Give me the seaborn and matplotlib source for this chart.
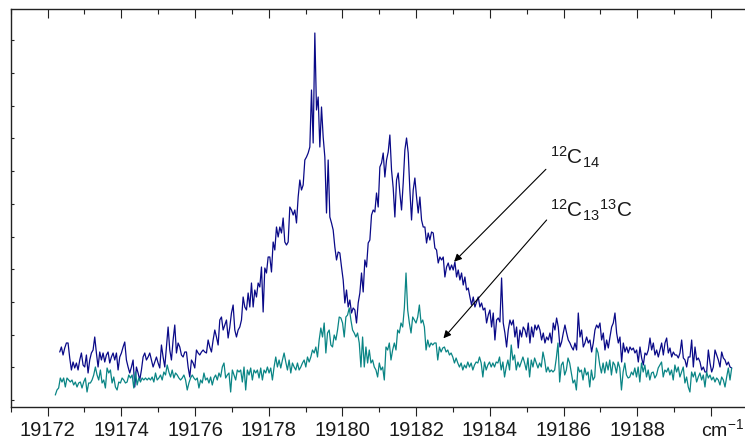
import numpy as np
import pandas as pd
import matplotlib
matplotlib.use("Agg")
import matplotlib.pyplot as plt
import seaborn as sns
from matplotlib.ticker import FixedLocator, MultipleLocator

# ---------------- data (arbitrary intensity units) ----------------
# 12C14 spectrum, sampled on an even grid from c14_start to c14_end (cm^-1)
c14_start, c14_end = 19172.33, 19190.56
c14_a = [48,53,45,52,57,57,42,30,38,32,37,30,40,47,35,33,45,27,40,47,50,63,47,33,48,40,47,38,45,48,
         37,43,47,40,47,30,43,47,53,58,40,33,27,33,40,13,33,27,20,30,43,47]
c14_b = [40,43,47,40,33,38,43,37,32,55,43,33,53,73,50,40,60,75,47,57,53,45,43,48,48,33,23,40,37,32,
         50,47,45,48,50,48,47,60,53,48,60,70,63,55,80,83,70,75,80,62,73,87,95,70,63,70,73,80,103,93]
c14_c = [90,107,93,117,93,110,103,117,113,133,88,132,127,143,143,128,158,150,173,163,173,167,182,158,155,
         158,193,190,185,190,177,203,220,210,215,240,243,247,253,310,257,367,290,303,253,293,263,243,187,240,
         183,177,170,153,140,148,147]
c14_d = [133,120,97,110,93,100,87,92,90,77,97,107,127,108,140,133,157,160,185,190,188,207,193,233,237,
         247,223,240,248,265,230,212,183,220,227,207,190,217,250,262,247,210,180,210,222,203,187,203,180,173,
         173,157,167,160,168,167,152]
c14_e = [150,137,143,140,143,123,133,137,130,135,130,138,123,130,120,127,115,123,110,112,103,95,103,93,98,
         103,93,97,90,92,77,85,90,73,87,60,80,82,78,122,77,67,53,70,80,75,80,63,73,52,70,63,73,70,63,77,57]
c14_f = [73,63,75,70,75,70,60,67,57,63,60,67,57,77,70,82,73,53,58,67,75,67,60,57,53,50,57,50,87,63,
         70,53,57,63,57,60,48,57,70,75,72,77,60,67,50,60,52,63,73,77,87,67,57,63,38,57,48,53,47,53]
c14_g = [50,52,47,50,38,53,42,35,47,45,50,62,50,57,45,50,43,50,57,45,57,62,47,52,43,48,45,45,42,47,
         60,42,40,33,43,43,60,33,53,40,42,38,30,33,28,28,50,37,28,33,50,45,40,33,48,42,40,35,38,33,32]

# 12C13 13C spectrum
c13_start, c13_end = 19172.21, 19190.56
c13_a = [5,10,12,22,18,22,13,22,20,18,20,15,18,13,17,18,12,18,22,8,17,17,20,25,33,25,20,30,17,20,
         12,32,27,30,17,23,13,10,18,17,22,20,17,18,25,22,25,12,28,15,22,18,22,20,22,20,22,20,23,18,
         27,20,22,25,20,28,25,35,28,23,30,22,27,25,22,20,22,25,20,10,17,22,25,22,20,22,12,20,17,27,
         20,22,17,23,15,22,25,20,27,23,33,37,22,25,27,8,30,25,20,30,28]
c13_b = [30,18,33,10,30,25,32,20,30,27,30,22,32,20,30,27,33,27,32,20,33,43,33,40,32,40,47,38,30,40,
         27,37,33,30,37,30,33,37,40,33,43,38,43,50,47,53,43,60,72,63,77,47,67,70,55,53,65,60,70,83]
c13_c = [82,77,63,83,85,92,80,70,67,63,67,57,33,63,33,53,37,50,37,40,33,30,23,37,30,33,20,53,50,57,
         40,50,57,50,70,67,77,73,92,127,90,77,67,83,80,77,83,95,77,80,73,50,60,53,57,55,57]
c13_d = [57,40,53,48,52,53,48,50,45,47,43,37,42,37,33,37,30,35,32,38,33,37,30,35,38,37,43,37,23,38,
         30,35,38,33,37,33,38,37,43,30,38,23,33,40,30,55,40,45,30,38,33,38,43,37,30,42,23]
c13_e = [40,33,42,37,32,37,33,48,40,28,33,28,30,28,30,42,57,18,35,38,25,30,42,37,27,17,20,10,33,28,
         30,20,32,25,28,13,30,20,23,52,47,35,27,37,27,38,30,40,25,38,35,27,38,32,10,28,37,25,22,23]
c13_f = [28,25,32,23,33,18,37,28,35,23,30,20,27,28,22,25,32,35,38,23,30,28,32,25,30,20,35,28,33,23,
         28,33,17,23,13,8,28,23,28,18,23,27,20,25,13,28,22,25,20,23,18,22,20,15,23,20,13,23,32,20,32]

tick_values = [19172, 19174, 19176, 19178, 19180, 19182, 19184, 19186, 19188, 19190]
tick_labels = ["19172", "19174", "19176", "19178", "19180", "19182", "19184", "19186", "19188", ""]
unit_label = "cm$^{-1}$"

species = ["12C14", "12C13 13C"]
species_labels = [r"$^{12}$C$_{14}$", r"$^{12}$C$_{13}{}^{13}$C"]
# arrow tail / head points (wavenumber, intensity)
arrow_tails = [(19185.52, 230.7), (19185.54, 180.0)]
arrow_heads = [(19183.03, 138.3), (19182.74, 61.7)]
text_pos = [(19185.62, 235.0), (19185.62, 183.0)]

# ---------------- build table ----------------
c14 = c14_a + c14_b + c14_c + c14_d + c14_e + c14_f + c14_g
c13 = c13_a + c13_b + c13_c + c13_d + c13_e + c13_f
wn14 = np.linspace(c14_start, c14_end, len(c14))
wn13 = np.linspace(c13_start, c13_end, len(c13))
df = pd.DataFrame({
    "wavenumber": np.concatenate([wn14, wn13]),
    "intensity": c14 + c13,
    "species": [species[0]] * len(c14) + [species[1]] * len(c13),
})

# ---------------- style ----------------
sns.set_style("ticks")
plt.rcParams["font.family"] = ["Liberation Sans", "DejaVu Sans"]
plt.rcParams["mathtext.fontset"] = "custom"
plt.rcParams["mathtext.rm"] = "Liberation Sans"
plt.rcParams["mathtext.it"] = "Liberation Sans:italic"
plt.rcParams["mathtext.default"] = "regular"

W, H = 745, 441
fig = plt.figure(figsize=(W / 100, H / 100), dpi=100)
ax = fig.add_axes([10.7 / W, 34.3 / H, 737.2 / W, 397.4 / H])

sns.lineplot(data=df, x="wavenumber", y="intensity", hue="species",
             palette={species[0]: "#0a0a88", species[1]: "#0a8585"},
             hue_order=species, estimator=None, sort=False, lw=0.9,
             legend=False, ax=ax)

ax.set_xlim(19171, 19191)
ax.set_ylim(-6.7, 390.7)
ax.set_xlabel("")
ax.set_ylabel("")

# spines
for s in ["left", "top", "bottom"]:
    ax.spines[s].set_color("#222222")
    ax.spines[s].set_linewidth(1.0)
ax.spines["right"].set_visible(False)

# x ticks (bottom: outward, labelled)
ax.xaxis.set_major_locator(FixedLocator(tick_values))
ax.set_xticklabels(tick_labels)
ax.xaxis.set_minor_locator(MultipleLocator(1))
ax.tick_params(axis="x", which="major", direction="out", length=6.5, width=0.8,
               colors="#222222", labelsize=14.5, pad=4.0, top=False)
ax.tick_params(axis="x", which="minor", direction="out", length=3.3, width=0.8,
               colors="#222222", top=False)
for lab in ax.get_xticklabels():
    lab.set_color("#1a1a1a")

# top ticks pointing inward
sec = ax.secondary_xaxis("top")
sec.xaxis.set_major_locator(FixedLocator(tick_values))
sec.xaxis.set_minor_locator(MultipleLocator(1))
sec.tick_params(axis="x", which="major", direction="in", length=6.5, width=0.8,
                colors="#222222", labeltop=False)
sec.tick_params(axis="x", which="minor", direction="in", length=3.3, width=0.8,
                colors="#222222", labeltop=False)
sec.spines["top"].set_visible(False)

# y ticks: inward, unlabelled
ax.yaxis.set_major_locator(MultipleLocator(32.7))
ax.tick_params(axis="y", which="major", direction="in", length=2.0, width=0.8,
               colors="#222222", labelleft=False, left=True, right=False)

# unit label at the last tick (kept inside the figure)
ax.text(19190 - 0.28, -0.030, unit_label, transform=ax.get_xaxis_transform(),
        ha="left", va="top", fontsize=14, color="#1a1a1a")

# annotations
for lab, (tx, ty), tail, head in zip(species_labels, text_pos, arrow_tails, arrow_heads):
    ax.text(tx, ty, lab, ha="left", va="baseline", fontsize=15, color="#1a1a1a")
    ax.annotate("", xy=head, xytext=tail,
                arrowprops=dict(arrowstyle="-|>", color="black", lw=0.8,
                                mutation_scale=11, shrinkA=0, shrinkB=0))

fig.savefig("out.png", dpi=100)
